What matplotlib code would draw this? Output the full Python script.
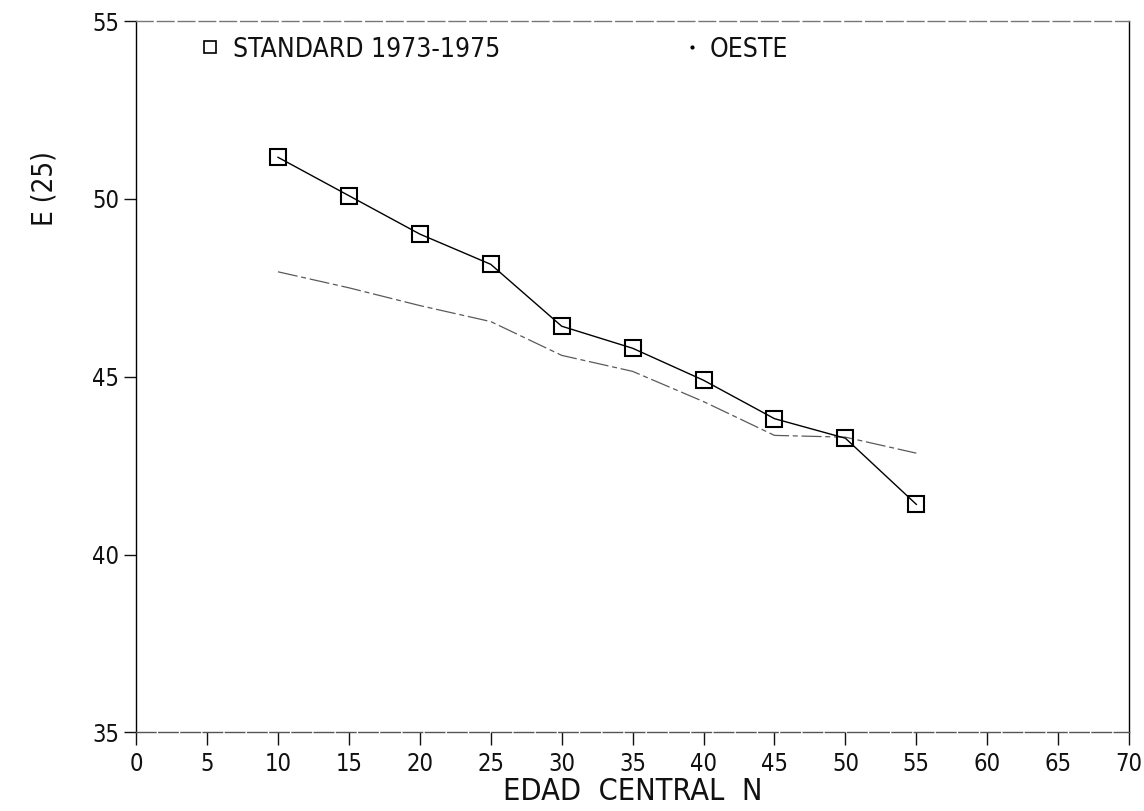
import matplotlib
matplotlib.use("Agg")
import matplotlib.pyplot as plt
from matplotlib.lines import Line2D

# Data
edad = [10, 15, 20, 25, 30, 35, 40, 45, 50, 55]
standard_1973_1975 = [51.17, 50.09, 49.01, 48.16, 46.42, 45.80, 44.90, 43.82, 43.27, 41.41]
oeste = [47.95, 47.50, 47.00, 46.55, 45.60, 45.15, 44.30, 43.35, 43.30, 42.85]

x_ticks = list(range(0, 75, 5))
y_ticks = [35, 40, 45, 50, 55]

plt.rcParams['font.family'] = ['DejaVu Sans']
plt.rcParams['font.stretch'] = 'condensed'

fig = plt.figure(figsize=(11.44, 8.11), dpi=100)
ax = fig.add_axes([0.119, 0.097, 0.868, 0.877])

ax.plot(edad, standard_1973_1975, color='black', linewidth=1.0,
        marker='s', markersize=11, markerfacecolor='none',
        markeredgecolor='black', markeredgewidth=1.5, zorder=3)
ax.plot(edad, oeste, color='#5a5a5a', linewidth=0.9,
        linestyle=(0, (16, 3, 4, 3)), zorder=2)

ax.set_xlim(0, 70)
ax.set_ylim(35, 55)
ax.set_xticks(x_ticks)
ax.set_yticks(y_ticks)
ax.set_xticklabels([str(v) for v in x_ticks])
ax.set_yticklabels([str(v) for v in y_ticks])
ax.tick_params(axis='both', direction='out', length=9, width=1.0,
               labelsize=17, colors='#111111', pad=3)
ax.tick_params(axis='x', pad=5)

ax.set_xlabel('EDAD  CENTRAL  N', fontsize=22, labelpad=1, color='#111111')
ax.set_ylabel('E (25)', fontsize=20, color='#111111')
ax.yaxis.set_label_coords(-0.078, 0.765)

for side in ('left', 'right'):
    ax.spines[side].set_color('black')
    ax.spines[side].set_linewidth(1.0)
ax.spines['top'].set_color('#777777')
ax.spines['top'].set_linewidth(1.0)
ax.spines['top'].set_linestyle((0, (12, 3)))
ax.spines['bottom'].set_color('#555555')
ax.spines['bottom'].set_linewidth(1.0)
ax.spines['bottom'].set_linestyle((0, (14, 2)))

square_handle = Line2D([], [], linestyle='none', marker='s', markersize=9,
                       markerfacecolor='none', markeredgecolor='black',
                       markeredgewidth=1.2)
dot_handle = Line2D([], [], linestyle='none', marker='.', markersize=4,
                    color='black')

leg_std = ax.legend([square_handle], ['STANDARD 1973-1975'],
                    loc='upper left', bbox_to_anchor=(0.0614, 0.978),
                    frameon=False, fontsize=19, handlelength=1.0,
                    handletextpad=0.35, borderpad=0, borderaxespad=0,
                    labelcolor='#111111')
ax.add_artist(leg_std)
ax.legend([dot_handle], ['OESTE'],
          loc='upper left', bbox_to_anchor=(0.547, 0.978),
          frameon=False, fontsize=19, handlelength=1.0,
          handletextpad=0.15, borderpad=0, borderaxespad=0,
          labelcolor='#111111')

fig.savefig('out.png', dpi=100, facecolor='white')
